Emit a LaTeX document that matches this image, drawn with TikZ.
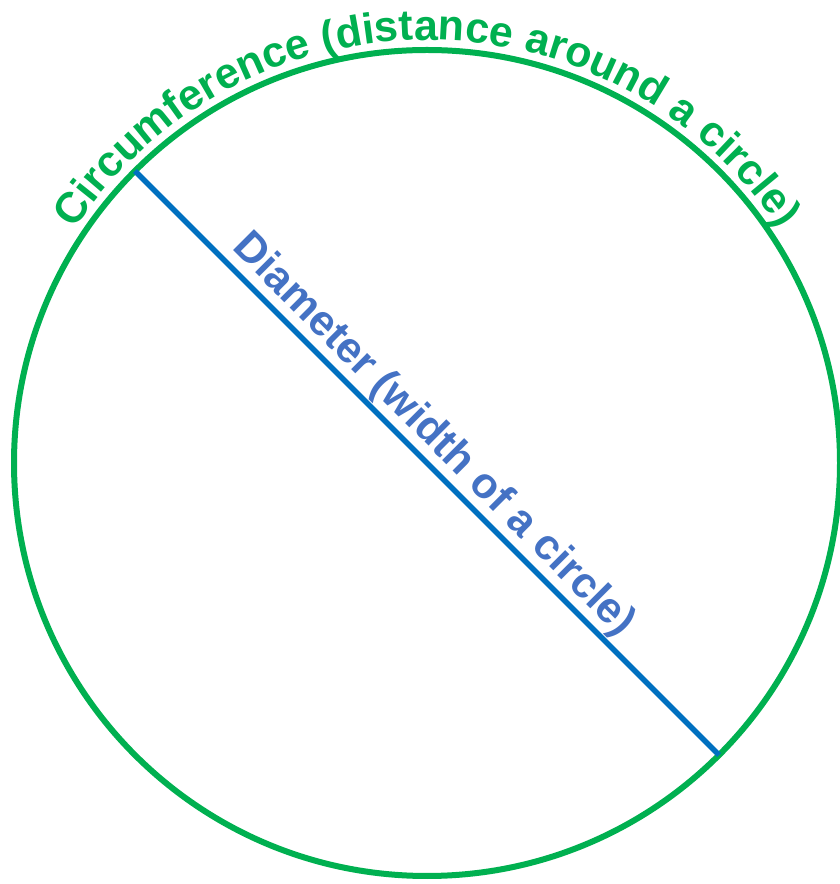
\documentclass[tikz,border=0pt]{standalone}
\usepackage{fontspec}
\setmainfont{Liberation Sans}
\usetikzlibrary{decorations.text,calc}
\definecolor{cgreen}{HTML}{00B050}
\definecolor{cblue}{HTML}{0070C0}
\definecolor{tblue}{HTML}{4472C4}
\begin{document}
\begin{tikzpicture}[x=1pt,y=1pt,
  ring/.style={circle, draw=cgreen, line width=6pt, minimum size=826pt, inner sep=0pt, outer sep=0pt},
  diam/.style={draw=cblue, line width=5.5pt},
  dlabel/.style={text=tblue, font=\bfseries\fontsize{43}{43}\selectfont, rotate=-45, anchor=base west, inner sep=0pt}]
\useasboundingbox (0,0) rectangle (840,884);
\coordinate (C) at (427,421);
\node[ring] (circ) at (C) {};
\draw[diam] (circ.135) -- (circ.-45);
\node[dlabel] (dtext) at ($(circ.135)!0.149!(circ.-45)+(45:13)$) {Diameter (width of a circle)};
\path[decorate, decoration={text along path, text align=center, text color=cgreen,
  text={|\bfseries\fontsize{43}{43}\selectfont|Circumference (distance around a circle)}}]
  ($(C)+(180:423)$) arc[start angle=180, end angle=0, radius=423];
\end{tikzpicture}
\end{document}
